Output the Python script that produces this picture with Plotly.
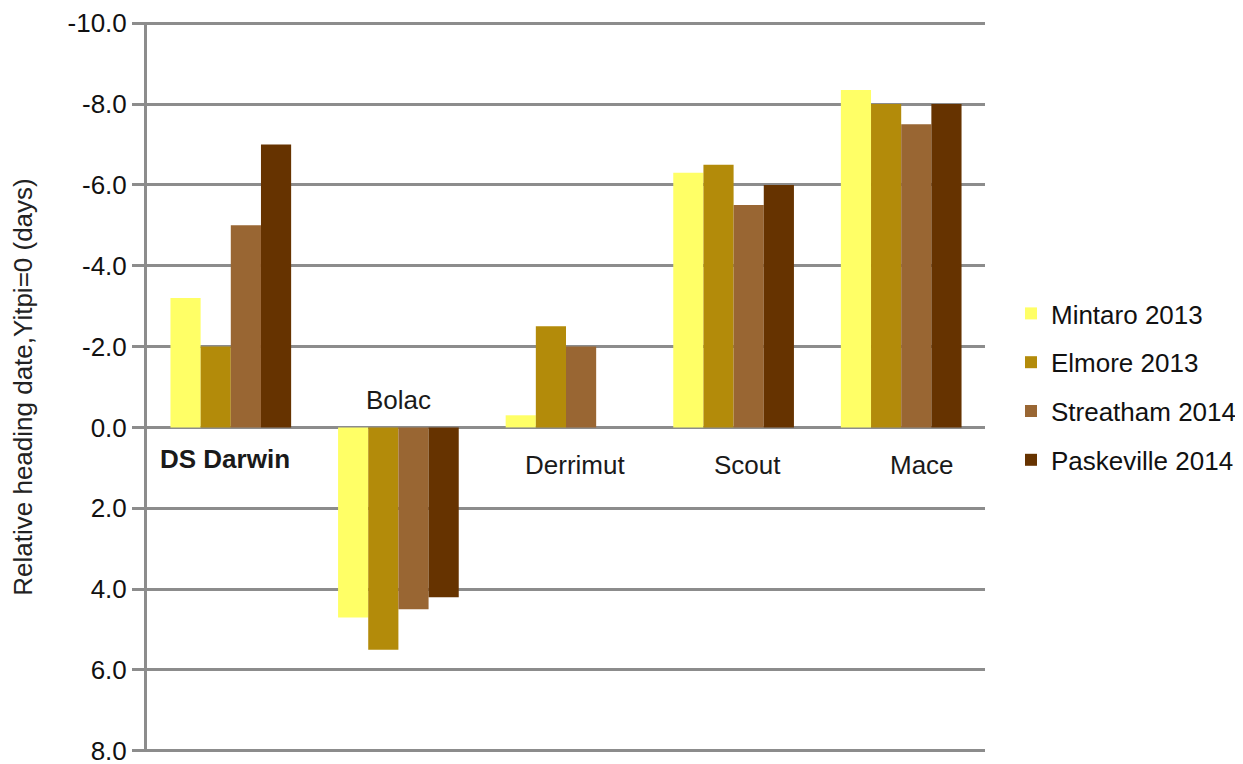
import plotly.graph_objects as go

categories = ["DS Darwin", "Bolac", "Derrimut", "Scout", "Mace"]
series_names = ["Mintaro 2013", "Elmore 2013", "Streatham 2014", "Paskeville 2014"]
mintaro = [-3.2, 4.7, -0.3, -6.3, -8.35]
elmore = [-2.0, 5.5, -2.5, -6.5, -8.0]
streatham = [-5.0, 4.5, -2.0, -5.5, -7.5]
paskeville = [-7.0, 4.2, 0.0, -6.0, -8.0]
colors = ["#FFFF66", "#B38B0A", "#996633", "#663300"]
tick_vals = [-10, -8, -6, -4, -2, 0, 2, 4, 6, 8]
tick_text = ["-10.0", "-8.0", "-6.0", "-4.0", "-2.0", "0.0", "2.0", "4.0", "6.0", "8.0"]

FONT = "Liberation Sans, Arial, sans-serif"

fig = go.Figure()
for i, (name, vals) in enumerate(zip(series_names, [mintaro, elmore, streatham, paskeville])):
    fig.add_trace(go.Bar(
        x=categories, y=vals, name=name, legendgroup=name,
        marker=dict(color=colors[i], line=dict(width=0)),
    ))

label_style = {
    "DS Darwin": dict(xshift=-6, yshift=-32, bold=True),
    "Bolac": dict(xshift=0, yshift=27, bold=False),
    "Derrimut": dict(xshift=9, yshift=-38, bold=False),
    "Scout": dict(xshift=14, yshift=-38, bold=False),
    "Mace": dict(xshift=21, yshift=-38, bold=False),
}
for c in categories:
    s = label_style[c]
    fig.add_annotation(
        x=c, y=0, xref="x", yref="y", showarrow=False,
        text=("<b>%s</b>" % c) if s["bold"] else c,
        xshift=s["xshift"], yshift=s["yshift"],
        font=dict(family=FONT, size=26, color="#1a1a1a"),
    )

grid_col = "#8C8C8C"
fig.update_layout(
    width=1243, height=764,
    margin=dict(l=139, r=266, t=14, b=20, autoexpand=False),
    plot_bgcolor="white", paper_bgcolor="white",
    barmode="group", bargap=0.28, bargroupgap=0.0,
    font=dict(family=FONT, size=26, color="#111111"),
    legend=dict(x=1.031, y=0.5, xanchor="left", yanchor="middle",
                font=dict(family=FONT, size=26, color="#111111"), tracegroupgap=12,
                itemwidth=30),
    showlegend=True,
)
fig.update_xaxes(showticklabels=False, showgrid=False, showline=False, zeroline=False, ticks="")
fig.update_yaxes(
    range=[8.03, -10.03], tickvals=tick_vals, ticktext=tick_text,
    automargin=False, ticklabeloverflow="allow",
    showgrid=True, gridcolor=grid_col, gridwidth=3,
    zeroline=True, zerolinecolor=grid_col, zerolinewidth=3,
    showline=True, linecolor=grid_col, linewidth=3,
    ticks="outside", ticklen=12, tickwidth=3, tickcolor=grid_col,
    ticklabelstandoff=0,
    tickfont=dict(family=FONT, size=26, color="#111111"),
    title=dict(text="Relative heading date,Yitpi=0 (days)", font=dict(family=FONT, size=26, color="#222222"), standoff=35),
)

fig.write_html("out.html")
